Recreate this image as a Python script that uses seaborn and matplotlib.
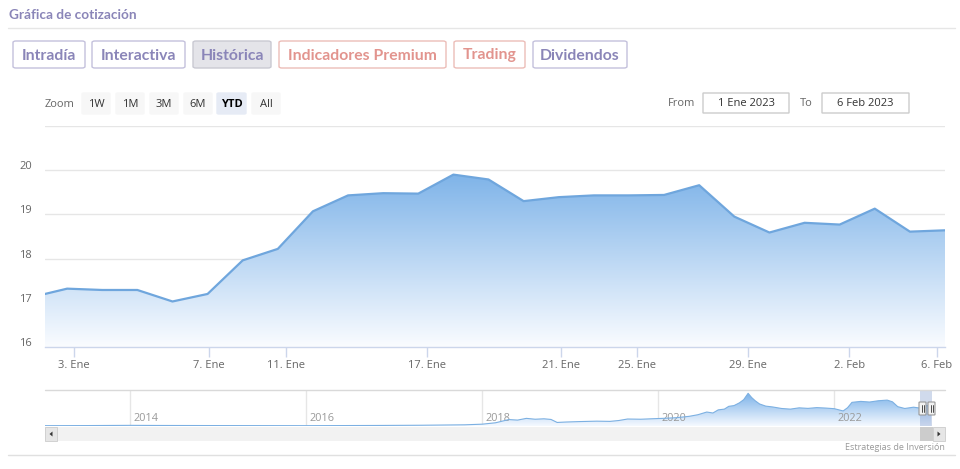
import numpy as np
import pandas as pd
import matplotlib
matplotlib.use("Agg")
import matplotlib.pyplot as plt
import matplotlib.transforms as mtransforms
import seaborn as sns
from matplotlib.patches import FancyBboxPatch, Rectangle, Polygon
from matplotlib.lines import Line2D

# ---------------- data ----------------
dates = ["30 Dic", "2 Ene", "3 Ene", "4 Ene", "5 Ene", "6 Ene", "9 Ene", "10 Ene", "11 Ene",
         "12 Ene", "13 Ene", "16 Ene", "17 Ene", "18 Ene", "19 Ene", "20 Ene", "23 Ene",
         "24 Ene", "25 Ene", "26 Ene", "27 Ene", "30 Ene", "31 Ene", "1 Feb", "2 Feb",
         "3 Feb", "6 Feb"]
prices = [17.13, 17.32, 17.29, 17.29, 17.03, 17.20, 17.96, 18.22, 19.07,
          19.43, 19.48, 19.47, 19.90, 19.79, 19.30, 19.39, 19.43,
          19.43, 19.44, 19.66, 18.95, 18.59, 18.81, 18.77, 19.13,
          18.61, 18.64]
tick_labels = ["3. Ene", "7. Ene", "11. Ene", "17. Ene", "21. Ene", "25. Ene",
               "29. Ene", "2. Feb", "6. Feb"]
tick_pos = [0.20, 4.04, 6.24, 10.25, 14.07, 16.23, 19.39, 22.27, 24.77]
y_ticks = [16, 17, 18, 19, 20]

nav_years = [2013.03, 2013.5, 2014.0, 2014.3, 2015.0, 2016.0, 2016.8, 2017.3, 2017.8,
             2018.0, 2018.15, 2018.3, 2018.4, 2018.5, 2018.6, 2018.7, 2018.78, 2018.85,
             2018.95, 2019.1, 2019.3, 2019.45, 2019.55, 2019.65, 2019.8, 2019.95,
             2020.05, 2020.2, 2020.35, 2020.45, 2020.55, 2020.62, 2020.68, 2020.75,
             2020.8, 2020.86, 2020.92, 2020.97, 2021.02, 2021.06, 2021.1, 2021.15,
             2021.22, 2021.3, 2021.4, 2021.5, 2021.6, 2021.7, 2021.8, 2021.9, 2022.0,
             2022.1, 2022.15, 2022.2, 2022.3, 2022.4, 2022.5, 2022.6, 2022.66, 2022.72,
             2022.8, 2022.9, 2022.97, 2023.0, 2023.05, 2023.1]
nav_values = [0.8, 0.9, 1.1, 1.0, 0.9, 0.8, 1.0, 1.2, 1.6,
              2.2, 3.5, 6.5, 6.0, 7.6, 6.8, 7.2, 6.6, 3.8,
              4.2, 4.6, 5.0, 4.8, 5.6, 7.0, 6.8, 7.3,
              7.6, 8.2, 9.5, 11.0, 13.5, 12.6, 15.5, 16.2,
              18.8, 19.5, 22.0, 25.0, 30.9, 27.0, 24.0, 21.0,
              19.0, 18.2, 16.8, 16.2, 17.4, 16.9, 17.6, 17.2, 16.6,
              14.5, 17.5, 22.5, 23.4, 22.8, 24.0, 24.6, 23.0, 18.5,
              16.8, 18.0, 17.2, 17.3, 19.5, 18.6]
nav_year_ticks = [2014, 2016, 2018, 2020, 2022]

# ---------------- setup ----------------
sns.set_theme(style="white")
plt.rcParams["font.family"] = ["Open Sans", "DejaVu Sans"]

W, H = 960, 469
fig = plt.figure(figsize=(W / 100, H / 100), dpi=100)
fig.patch.set_facecolor("white")


def fx(x):
    return x / W


def fy(y):
    return 1 - y / H


def add_box(x0, y0, x1, y1, fc, ec, r=3, lw=1.0):
    p = FancyBboxPatch((fx(x0), fy(y1)), fx(x1) - fx(x0), fy(y0) - fy(y1),
                       boxstyle=f"round,pad=0,rounding_size={r / W}",
                       transform=fig.transFigure, facecolor=fc, edgecolor=ec, lw=lw)
    fig.patches.append(p)


def hline(y, x0, x1, color, lw=1.0):
    fig.add_artist(Line2D([fx(x0), fx(x1)], [fy(y), fy(y)], color=color, lw=lw,
                          transform=fig.transFigure))


# ---------------- header ----------------
ui_font = ["Lato", "DejaVu Sans"]
purple = "#8a85b8"
red = "#e2948e"
fig.text(fx(9), fy(15), "Gráfica de cotización", color=purple, fontsize=9.8,
         fontweight="bold", family=ui_font, va="center", ha="left")
hline(28, 8, 955, "#e6e6e6")

buttons = [("Intradía", 13, 85, purple, "white", "#c4c1dc"),
           ("Interactiva", 92, 185, purple, "white", "#c4c1dc"),
           ("Histórica", 193, 271, purple, "#e4e4e9", "#c9c9d2"),
           ("Indicadores Premium", 279, 446, red, "white", "#ecbdb8"),
           ("Trading", 454, 525, red, "white", "#ecbdb8"),
           ("Dividendos", 533, 627, purple, "white", "#c4c1dc")]
for label, x0, x1, tc, fc, ec in buttons:
    add_box(x0, 41, x1, 68, fc, ec, r=3)
    fig.text(fx((x0 + x1) / 2), fy(55.5), label, color=tc, fontsize=11.3,
             fontweight="bold", family=ui_font, ha="center", va="center")

# range selector
fig.text(fx(45), fy(104), "Zoom", color="#666666", fontsize=8, ha="left", va="center")
zoom_btns = [("1W", 82, 110), ("1M", 116, 144), ("3M", 150, 178), ("6M", 184, 212),
             ("YTD", 217, 246), ("All", 252, 280)]
for label, x0, x1 in zoom_btns:
    sel = label == "YTD"
    add_box(x0, 93, x1, 114, "#e6ebf5" if sel else "#f7f7f7",
            "#e6ebf5" if sel else "#f7f7f7", r=2)
    fig.text(fx((x0 + x1) / 2), fy(104), label, color="#000000" if sel else "#333333",
             fontsize=8, fontweight="bold" if sel else "normal", ha="center", va="center")

fig.text(fx(668), fy(103.5), "From", color="#666666", fontsize=8, ha="left", va="center")
add_box(703, 93, 789, 113, "white", "#cccccc", r=0)
fig.text(fx(746), fy(103.5), "1 Ene 2023", color="#333333", fontsize=8, ha="center", va="center")
fig.text(fx(800), fy(103.5), "To", color="#666666", fontsize=8, ha="left", va="center")
add_box(822, 93, 909, 113, "white", "#cccccc", r=0)
fig.text(fx(865.5), fy(103.5), "6 Feb 2023", color="#333333", fontsize=8, ha="center", va="center")

# ---------------- main chart ----------------
ax = fig.add_axes([fx(45), fy(347), fx(945) - fx(45), fy(126) - fy(347)])
df = pd.DataFrame({"pos": np.arange(-1, len(prices) - 1), "date": dates, "price": prices})
xmin, xmax = -0.63, float(df["pos"].iloc[-1])
ymin, ymax = 16, 21
ax.set_xlim(xmin, xmax)
ax.set_ylim(ymin, ymax)

for v in [17, 18, 19, 20, 21]:
    ax.axhline(v, color="#e6e6e6", lw=1, zorder=0)

poly = ax.fill_between(df["pos"], df["price"], ymin, color="none", lw=0)
top_c = np.array([124, 178, 232]) / 255
bot_c = np.array([250, 252, 255]) / 255
t = np.linspace(0, 1, 256)[:, None]
grad = (top_c * (1 - t) + bot_c * t)[:, None, :]
grad = np.repeat(grad, 2, axis=1)
im = ax.imshow(grad, extent=[xmin, xmax, ymin, 20.0], origin="upper", aspect="auto",
               zorder=1, interpolation="bilinear")
im.set_clip_path(poly.get_paths()[0], transform=ax.transData)
ax.set_ylim(ymin, ymax)
ax.set_xlim(xmin, xmax)

sns.lineplot(data=df, x="pos", y="price", ax=ax, color="#6fa6dd", lw=1.6, zorder=3)

ax.set_xticks(tick_pos)
ax.set_xticklabels(tick_labels)
ax.set_yticks(y_ticks)
ax.set_yticklabels([str(v) for v in y_ticks])
ax.tick_params(axis="x", direction="out", length=7, width=1, color="#ccd6eb",
               labelsize=8, labelcolor="#666666", pad=2, bottom=True)
ax.tick_params(axis="y", length=0, labelsize=8, labelcolor="#666666", pad=9.5)
up = mtransforms.ScaledTranslation(0, 5 / 100, fig.dpi_scale_trans)
for lbl in ax.get_yticklabels():
    lbl.set_transform(lbl.get_transform() + up)
ax.set_xlabel("")
ax.set_ylabel("")
for s in ["top", "right", "left"]:
    ax.spines[s].set_visible(False)
ax.spines["bottom"].set_color("#ccd6eb")
ax.spines["bottom"].set_linewidth(1)
ax.set_facecolor("none")

# ---------------- navigator ----------------
hline(390, 45, 945, "#d9d9d9", lw=1)
nav = fig.add_axes([fx(45), fy(426), fx(945) - fx(45), fy(390) - fy(426)])
nav_df = pd.DataFrame({"year": nav_years, "value": nav_values})
n_x0 = 2013.03
n_x1 = n_x0 + 900 / 88
n_y0, n_y1 = 0.5, 34
nav.set_xlim(n_x0, n_x1)
nav.set_ylim(n_y0, n_y1)
for yr in nav_year_ticks:
    nav.axvline(yr, color="#e6e6e6", lw=1, zorder=0)
    nav.text(yr + 0.04, 0.2, str(yr), transform=nav.get_xaxis_transform(),
             color="#999999", fontsize=7.8, ha="left", va="center", zorder=2)
npoly = nav.fill_between(nav_df["year"], nav_df["value"], n_y0, color="none", lw=0)
ntop = np.array([120, 176, 232]) / 255
nbot = np.array([245, 249, 255]) / 255
t2 = np.linspace(0, 1, 128)[:, None]
ngrad = np.repeat((ntop * (1 - t2) + nbot * t2)[:, None, :], 2, axis=1)
nim = nav.imshow(ngrad, extent=[n_x0, n_x1, n_y0, 31.5], origin="upper", aspect="auto",
                 zorder=1, interpolation="bilinear")
nim.set_clip_path(npoly.get_paths()[0], transform=nav.transData)
sns.lineplot(data=nav_df, x="year", y="value", ax=nav, color="#7cb0e2", lw=0.8, zorder=3)
nav.set_xlim(n_x0, n_x1)
nav.set_ylim(n_y0, n_y1)
nav.axvspan(2022.97, 2023.11, color=(102 / 255, 133 / 255, 194 / 255), alpha=0.3, lw=0, zorder=4)
nav.set_xticks([])
nav.set_yticks([])
nav.set_xlabel("")
nav.set_ylabel("")
for s in nav.spines.values():
    s.set_visible(False)
nav.set_facecolor("none")

# handles
for hx0 in (919, 928):
    add_box(hx0, 402, hx0 + 7, 415, "#f2f2f2", "#999999", r=1, lw=0.8)
    for lx in (hx0 + 2.5, hx0 + 4.5):
        fig.add_artist(Line2D([fx(lx), fx(lx)], [fy(405), fy(412)], color="#333333", lw=0.6,
                              transform=fig.transFigure))

# scrollbar
fig.patches.append(Rectangle((fx(45), fy(441)), fx(945) - fx(45), fy(427) - fy(441),
                             transform=fig.transFigure, facecolor="#f2f2f2", edgecolor="none"))
fig.patches.append(Rectangle((fx(920), fy(441)), fx(933) - fx(920), fy(427) - fy(441),
                             transform=fig.transFigure, facecolor="#cccccc", edgecolor="none"))
for bx0 in (45, 933):
    fig.patches.append(Rectangle((fx(bx0), fy(441)), fx(12), fy(427) - fy(441),
                                 transform=fig.transFigure, facecolor="#e6e6e6",
                                 edgecolor="#cccccc", lw=0.6))
fig.patches.append(Polygon([[fx(49.5), fy(434)], [fx(52.5), fy(431.5)], [fx(52.5), fy(436.5)]],
                           closed=True, transform=fig.transFigure, facecolor="#333333",
                           edgecolor="none"))
fig.patches.append(Polygon([[fx(940.5), fy(434)], [fx(937.5), fy(431.5)], [fx(937.5), fy(436.5)]],
                           closed=True, transform=fig.transFigure, facecolor="#333333",
                           edgecolor="none"))

fig.text(fx(945), fy(447), "Estrategias de Inversión", color="#999999", fontsize=6.5,
         ha="right", va="center")
hline(455, 8, 955, "#e0e0e0")

fig.savefig("out.png", dpi=100, facecolor="white")
